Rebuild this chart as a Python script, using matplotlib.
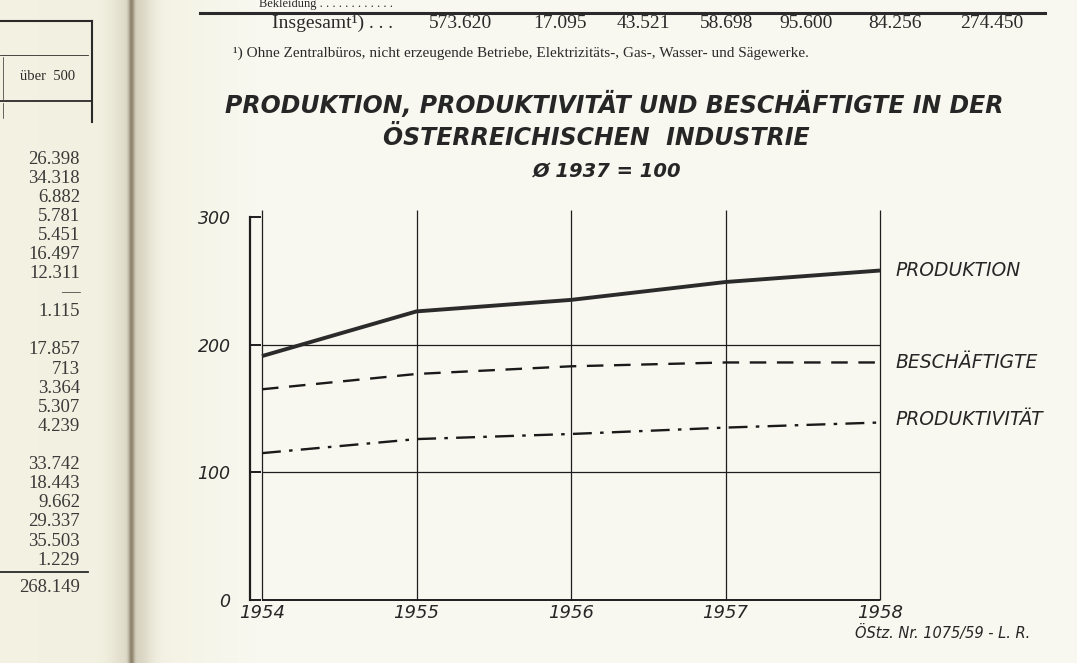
import numpy as np
import matplotlib
matplotlib.use("Agg")
import matplotlib.pyplot as plt

# chart data (index, average 1937 = 100)
years = [1954, 1955, 1956, 1957, 1958]
produktion = [191, 226, 235, 249, 258]
beschaeftigte = [165, 177, 183, 186, 186]
produktivitaet = [115, 126, 130, 135, 139]
series_labels = ["PRODUKTION", "BESCHÄFTIGTE", "PRODUKTIVITÄT"]
yticks = [0, 100, 200, 300]

# surrounding page text
table_row_label = "Insgesamt¹) . . ."
table_row_values = ["573.620", "17.095", "43.521", "58.698", "95.600", "84.256", "274.450"]
table_value_x = [460, 560, 643, 727, 806, 895, 992]
table_note = "¹) Ohne Zentralbüros, nicht erzeugende Betriebe, Elektrizitäts-, Gas-, Wasser- und Sägewerke."
left_column = ["26.398", "34.318", "6.882", "5.781", "5.451", "16.497", "12.311", "—", "1.115", "",
               "17.857", "713", "3.364", "5.307", "4.239", "",
               "33.742", "18.443", "9.662", "29.337", "35.503", "1.229"]
left_total = "268.149"

W, H = 1077, 663
fig = plt.figure(figsize=(W / 100, H / 100), dpi=100)

# page background with the book gutter shadow
bg = fig.add_axes([0, 0, 1, 1])
xs = np.arange(W)
left_page = np.array([243, 241, 225]) / 255
right_page = np.array([248, 248, 240]) / 255
t = np.clip((xs - 135) / 120.0, 0, 1)[:, None]
row = left_page[None, :] * (1 - t) + right_page[None, :] * t
row[xs < 135] = left_page
dark = np.array([0.42, 0.36, 0.26])
shade = 0.55 * np.exp(-((xs - 131) / 3.0) ** 2)
shade += 0.18 * np.exp(-((xs - 138) / 14.0) ** 2)
shade += 0.08 * np.exp(-((xs - 120) / 14.0) ** 2)
row = row * (1 - shade[:, None]) + dark[None, :] * shade[:, None]
img = np.repeat(row[None, :, :], 2, axis=0)
bg.imshow(img, aspect="auto", extent=[0, W, H, 0])
bg.set_xlim(0, W)
bg.set_ylim(H, 0)
bg.axis("off")

serif = "Liberation Serif"
ink = "#2a2a2a"

# top table fragment
bg.text(393, 4, "Bekleidung . . . . . . . . . . . .", ha="right", va="center",
        fontsize=9, family=serif, color=ink)
bg.plot([200, 1045], [13, 13], color=ink, lw=2.2)
bg.text(393, 23, table_row_label, ha="right", va="center", fontsize=14, family=serif, color=ink)
for x, v in zip(table_value_x, table_row_values):
    bg.text(x, 23, v, ha="center", va="center", fontsize=14, family=serif, color=ink)
bg.text(233, 53, table_note, ha="left", va="center", fontsize=11, family=serif, color=ink)

# left page fragment
bg.plot([0, 92], [21, 21], color=ink, lw=1.5)
bg.plot([92, 92], [21, 122], color=ink, lw=1.5)
bg.plot([0, 88], [55, 55], color=ink, lw=0.6)
bg.plot([0, 92], [101, 101], color=ink, lw=1.3)
bg.plot([3, 3], [57, 99], color=ink, lw=0.5)
bg.plot([3, 3], [103, 118], color=ink, lw=0.5)
bg.text(48, 77, "über  500", ha="center", va="center", fontsize=10.5, family=serif, color=ink)
for i, v in enumerate(left_column):
    bg.text(80, 159 + i * 19.1, v, ha="right", va="center", fontsize=13.5,
            family=serif, color="#3a3a3a")
bg.plot([0, 88], [572, 572], color=ink, lw=1.3)
bg.text(80, 587, left_total, ha="right", va="center", fontsize=13.5, family=serif, color="#3a3a3a")

# chart titles
tkw = dict(ha="center", va="center", style="italic", weight="bold", color="#262626")
bg.text(614, 104, "PRODUKTION, PRODUKTIVITÄT UND BESCHÄFTIGTE IN DER", fontsize=17, **tkw)
bg.text(596, 138, "ÖSTERREICHISCHEN  INDUSTRIE", fontsize=17, **tkw)
bg.text(607, 172, "Ø 1937 = 100", fontsize=14, **tkw)
bg.text(1030, 633, "ÖStz. Nr. 1075/59 - L. R.", ha="right", va="center",
        fontsize=10.5, style="italic", color="#262626")

# main chart
px_year = (880 - 262) / 4
left_px, right_px, top_px, bot_px = 250, 880, 210.5, 600
ax = fig.add_axes([left_px / W, (H - bot_px) / H, (right_px - left_px) / W, (bot_px - top_px) / H])
ax.patch.set_alpha(0)
ax.set_xlim(years[0] - (262 - left_px) / px_year, years[-1])
ax.set_ylim(0, 305)

line_col = "#1e1e1e"
ax.vlines(years, 0, 305, color=line_col, lw=0.9, clip_on=False)
ax.hlines([100, 200], years[0], years[-1], color=line_col, lw=0.9)
ax.hlines([0], years[0], years[-1], color=line_col, lw=1.4, clip_on=False)

ax.plot(years, produktion, color="#2b2b2b", lw=2.8, solid_capstyle="butt")
ax.plot(years, beschaeftigte, color="#1a1a1a", lw=1.7, linestyle=(0, (7, 4.5)))
ax.plot(years, produktivitaet, color="#1a1a1a", lw=1.7, linestyle=(0, (8, 3.5, 1.5, 3.5)))

label_y = [produktion[-1], beschaeftigte[-1], produktivitaet[-1] + 2]
for lab, y in zip(series_labels, label_y):
    ax.text(years[-1] + 0.1, y, lab, ha="left", va="center", fontsize=13.5,
            style="italic", color="#262626", clip_on=False)

for s in ["top", "right", "bottom"]:
    ax.spines[s].set_visible(False)
ax.spines["left"].set_bounds(0, 300)
ax.spines["left"].set_linewidth(1.6)
ax.spines["left"].set_color(line_col)

ax.set_yticks(yticks)
ax.set_yticklabels([str(t) for t in yticks], style="italic", fontsize=12.5, color="#262626")
ax.tick_params(axis="y", direction="in", length=8, width=1.4, pad=14, color=line_col)
ax.set_xticks(years)
ax.set_xticklabels([str(y) for y in years], style="italic", fontsize=13, color="#262626")
ax.tick_params(axis="x", length=0, pad=3)

fig.savefig("out.png", dpi=100)
